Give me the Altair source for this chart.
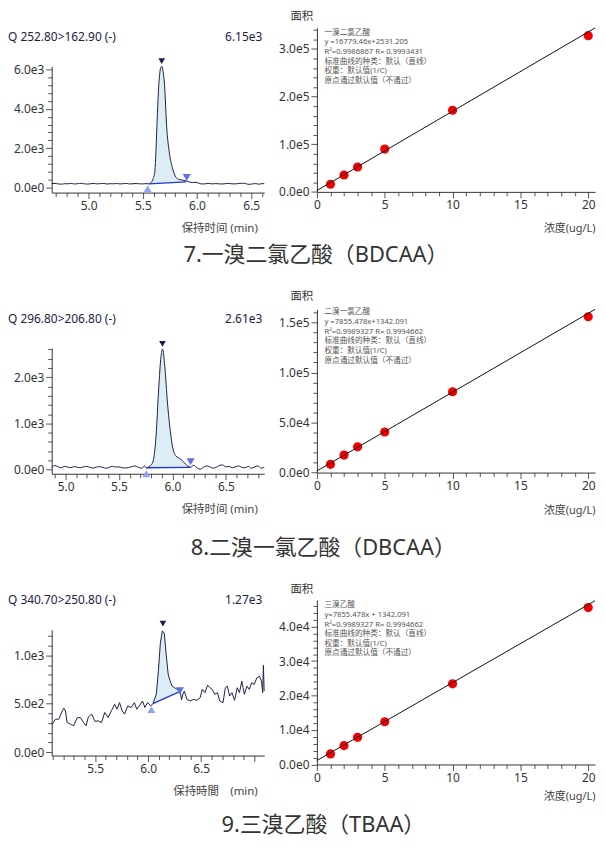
import altair as alt
import pandas as pd

LATIN = "Noto Sans, Noto Sans CJK SC, sans-serif"

# ---------------- data: chromatograms (time [min], response) ----------------
chrom1 = [
    (4.66, 205), (4.69, 215), (4.72, 190), (4.75, 175), (4.78, 200), (4.81, 195), (4.84, 215),
    (4.87, 185), (4.90, 200), (4.93, 220), (4.96, 195), (4.99, 180), (5.02, 200), (5.05, 210),
    (5.08, 190), (5.11, 205), (5.14, 215), (5.17, 185), (5.20, 200), (5.23, 195), (5.26, 210),
    (5.29, 190), (5.32, 200), (5.35, 215), (5.38, 185), (5.41, 200), (5.44, 210), (5.47, 195),
    (5.50, 190), (5.53, 205), (5.555, 195), (5.58, 280), (5.595, 450), (5.61, 780), (5.62, 1700),
    (5.63, 3100), (5.648, 5250), (5.665, 6080), (5.675, 6150), (5.687, 5900), (5.70, 5250),
    (5.72, 3100), (5.745, 1770), (5.776, 945), (5.806, 530), (5.836, 414), (5.87, 380),
    (5.90, 340), (5.93, 290), (5.96, 260), (5.99, 270), (6.02, 215), (6.05, 185), (6.08, 200),
    (6.11, 215), (6.14, 190), (6.17, 205), (6.20, 195), (6.23, 185), (6.26, 200), (6.29, 215),
    (6.32, 195), (6.35, 190), (6.38, 210), (6.42, 225), (6.45, 200), (6.48, 165), (6.51, 190),
    (6.54, 205), (6.57, 175), (6.60, 205), (6.62, 200),
]
chrom2 = [
    (4.87, 40), (4.90, 90), (4.93, 60), (4.96, 40), (4.99, 70), (5.02, 55), (5.05, 45),
    (5.08, 65), (5.11, 50), (5.14, 40), (5.17, 60), (5.20, 70), (5.23, 45), (5.26, 35),
    (5.29, 55), (5.32, 65), (5.35, 45), (5.38, 30), (5.41, 50), (5.44, 70), (5.47, 55),
    (5.50, 60), (5.53, 40), (5.56, 35), (5.59, 45), (5.62, 65), (5.65, 80), (5.68, 50),
    (5.71, 30), (5.74, 75), (5.755, 40), (5.79, 80), (5.816, 157), (5.847, 728), (5.871, 1729),
    (5.893, 2443), (5.908, 2610), (5.929, 2229), (5.954, 1443), (5.975, 943), (6.0, 514),
    (6.031, 300), (6.077, 229), (6.123, 121), (6.169, 50), (6.20, 95), (6.23, 40), (6.26, 10),
    (6.29, 50), (6.32, 80), (6.35, 60), (6.38, 30), (6.41, 50), (6.44, 90), (6.47, 100),
    (6.50, 60), (6.53, 70), (6.56, 40), (6.59, 60), (6.62, 80), (6.65, 50), (6.68, 40),
    (6.71, 70), (6.74, 30), (6.77, 60), (6.80, 80), (6.83, 30), (6.86, 50),
]
chrom3 = [
    (5.095, 290), (5.126, 341), (5.157, 341), (5.19, 427), (5.204, 454), (5.22, 427), (5.235, 307),
    (5.266, 290), (5.297, 273), (5.328, 352), (5.359, 359), (5.39, 307), (5.414, 273), (5.436, 365),
    (5.467, 393), (5.498, 318), (5.529, 324), (5.56, 307), (5.59, 410), (5.622, 359), (5.653, 427),
    (5.684, 495), (5.706, 444), (5.73, 512), (5.755, 427), (5.777, 393), (5.808, 478), (5.839, 461),
    (5.87, 512), (5.892, 444), (5.916, 478), (5.947, 529), (5.969, 461), (5.994, 512), (6.025, 478),
    (6.045, 502), (6.077, 598), (6.096, 837), (6.115, 1127), (6.133, 1253), (6.152, 1229),
    (6.17, 1007), (6.189, 803), (6.208, 734), (6.226, 683), (6.25, 666), (6.273, 649), (6.288, 640),
    (6.302, 628), (6.315, 540), (6.328, 600), (6.341, 632), (6.365, 546), (6.397, 529), (6.428, 546),
    (6.458, 536), (6.49, 563), (6.511, 649), (6.536, 615), (6.56, 693), (6.582, 666), (6.604, 649),
    (6.629, 598), (6.654, 615), (6.675, 529), (6.706, 512), (6.728, 666), (6.747, 683), (6.768, 580),
    (6.79, 615), (6.815, 536), (6.84, 666), (6.861, 615), (6.883, 734), (6.895, 666), (6.908, 598),
    (6.932, 683), (6.954, 649), (6.976, 717), (7.0, 700), (7.025, 768), (7.05, 785), (7.069, 734),
    (7.08, 615), (7.087, 898), (7.094, 632),
]

# integration baselines (start, end) and peak markers
base1 = [(5.555, 195), (5.90, 290)]
base2 = [(5.755, 40), (6.169, 50)]
base3 = [(6.045, 502), (6.302, 628)]
apex = [(5.674, 6420), (5.907, 2720), (6.139, 1330)]
starts = [(5.545, -60), (5.755, -90), (6.03, 440)]
ends = [(5.905, 510), (6.17, 170), (6.30, 635)]

headers = ["Q 252.80>162.90 (-)", "Q 296.80>206.80 (-)", "Q 340.70>250.80 (-)"]
maxima = ["6.15e3", "2.61e3", "1.27e3"]
time_titles = ["保持时间 (min)", "保持时间 (min)", "保持時間\u3000(min)"]

# ---------------- data: calibration curves ----------------
conc = [1, 2, 3, 5, 10, 20]
area1 = [16000, 35500, 52200, 89800, 171200, 327800]
area2 = [8200, 17500, 25700, 40500, 80700, 155600]
area3 = [3070, 5470, 7870, 12400, 23400, 45500]
fit1 = [(0, 2800), (20.5, 344000)]
fit2 = [(0, 1600), (20.5, 163000)]
fit3 = [(0, 1150), (20.5, 47480)]

notes1 = ["一溴二氯乙酸", "y =16779.46x+2531.205", "R²=0.9986867 R= 0.9993431", "",
          "标准曲线的种类：默认（直线）", "权重：默认值(1/C)", "原点通过默认值（不通过）"]
notes2 = ["二溴一氯乙酸", "y =7855.478x+1342.091", "R²=0.9989327 R= 0.9994662", "",
          "标准曲线的种类：默认（直线）", "权重：默认值(1/C)", "原点通过默认值（不通过）"]
notes3 = ["三溴乙酸", "y=7855.478x + 1342.091", "R²=0.9989327 R= 0.9994662", "",
          "标准曲线的种类：默认（直线）", "权重：默认值(1/C)", "原点通过默认值（不通过）"]

titles = ["7.一溴二氯乙酸（BDCAA）", "8.二溴一氯乙酸（DBCAA）", "9.三溴乙酸（TBAA）"]

# ---------------- styling / layout ----------------
NAVY = "#1c2148"
TXT = "#333333"
FILL = "#dcedf5"
BLUE = "#2136e0"
RED = "#f00000"
CW = 280  # calibration panel width

layout = [
    dict(xdom=[4.66, 6.62], ydom=[-250, 6150], h=166, top=39, xt=(4.7, 6.6, 0.1), xmax=6.55,
         yt=(0, 6000, 400), ymaj=2000, hy=9, xty=36, toff=11.5, tdx=13.5,
         cdom=[0, 344500], ch=165.3, ct=(0, 340000, 20000), cmaj=100000, ny=1, ay=-10.5, cty=36.5),
    dict(xdom=[4.87, 6.86], ydom=[-90, 2630], h=165.5, top=39, xt=(4.9, 6.8, 0.1), xmax=6.55,
         yt=(0, 2600, 200), ymaj=1000, hy=10, xty=36, toff=23, tdx=21,
         cdom=[0, 163000], ch=164.3, ct=(0, 160000, 10000), cmaj=50000, ny=-1, ay=-12.3, cty=38.4),
    dict(xdom=[5.09, 7.095], ydom=[-35, 1265], h=156.6, top=30, xt=(5.1, 7.0, 0.1), xmax=6.95,
         yt=(0, 1200, 100), ymaj=500, hy=0, xty=36.7, toff=13.5, tdx=21,
         cdom=[0, 47700], ch=165.6, ct=(0, 46000, 2000), cmaj=10000, ny=1.3, ay=-10, cty=32.7),
]


def ticks(lo, hi, step):
    n = int(round((hi - lo) / step))
    return [round(lo + i * step, 6) for i in range(n + 1)]


def sci_expr(maj):
    return (f"abs(datum.value/{maj} - round(datum.value/{maj})) < 1e-6 ? "
            f"replace(format(datum.value, '.1e'), '+', '') : ''")


def tick_size(test):
    return {"condition": {"test": test, "value": 6}, "value": 4}


one = pd.DataFrame({"k": [0]})


def chrom_panel(i, data, base):
    L = layout[i]
    interp = "linear" if i == 2 else "monotone"
    df = pd.DataFrame(data, columns=["t", "v"])
    xs = alt.Scale(domain=L["xdom"], nice=False, zero=False)
    ys = alt.Scale(domain=L["ydom"], range=[L["h"], L["top"]], nice=False, zero=False)
    xmaj = "abs(datum.value*2 - round(datum.value*2)) < 1e-6"
    ax_x = alt.Axis(values=ticks(*L["xt"]),
                    labelExpr=f"({xmaj} && datum.value < {L['xmax']}) ? format(datum.value, '.1f') : ''",
                    tickSize=tick_size(xmaj), title=time_titles[i], titleX=207, titleY=L["xty"],
                    titleAlign="right", titleAnchor="start", titleBaseline="middle",
                    titleFontSize=11.5, titleFontWeight="normal", titleColor="#444",
                    labelOverlap=False, labelFlush=False, grid=False)
    ymaj = f"abs(datum.value/{L['ymaj']} - round(datum.value/{L['ymaj']})) < 1e-6"
    ax_y = alt.Axis(values=ticks(*L["yt"]), labelExpr=sci_expr(L["ymaj"]), tickSize=tick_size(ymaj),
                    title=None, labelOverlap=False, labelFlush=False, grid=False)
    X = alt.X("t:Q", scale=xs, axis=ax_x)
    Y = alt.Y("v:Q", scale=ys, axis=ax_y)
    (t0, v0), (t1, v1) = base
    slope = (v1 - v0) / (t1 - t0)
    fill = alt.Chart(df).transform_filter(
        f"datum.t >= {t0 - 1e-9} && datum.t <= {t1 + 1e-9}"
    ).transform_calculate(b=f"{v0} + (datum.t - {t0}) * {slope}").mark_area(
        color=FILL, opacity=1, interpolate=interp).encode(x=X, y=Y, y2="b:Q")
    trace = alt.Chart(df).mark_line(color=NAVY, strokeWidth=1, interpolate=interp).encode(x=X, y=Y)
    bdf = pd.DataFrame({"t": [t0, t1], "v": [v0, v1]})
    bline = alt.Chart(bdf).mark_line(color=BLUE, strokeWidth=1.3).encode(x=X, y=Y)

    def marker(pt, shape, color, size):
        return alt.Chart(pd.DataFrame({"t": [pt[0]], "v": [pt[1]]})).mark_point(
            shape=shape, filled=True, color=color, size=size, opacity=1).encode(x=X, y=Y)

    m1 = marker(apex[i], "triangle-down", "#15204a", 45)
    m2 = marker(starts[i], "triangle-up", "#8fa3f5", 65)
    m3 = marker(ends[i], "triangle-down", "#5d72e8", 65)
    hdr = alt.Chart(one).mark_text(align="left", baseline="middle", fontSize=12, color=NAVY,
                                   font=LATIN).encode(
        x=alt.value(-44), y=alt.value(L["hy"]), text=alt.value(headers[i]))
    mx = alt.Chart(one).mark_text(align="right", baseline="middle", fontSize=12, color=NAVY,
                                  font=LATIN).encode(
        x=alt.value(212), y=alt.value(L["hy"]), text=alt.value(maxima[i]))
    return alt.layer(fill, trace, bline, m1, m2, m3, hdr, mx).properties(width=214, height=L["h"])


def calib_panel(i, area, fit, notes):
    L = layout[i]
    xs = alt.Scale(domain=[0, 20.5], nice=False, zero=False)
    ys = alt.Scale(domain=L["cdom"], nice=False, zero=False)
    ax_x = alt.Axis(values=ticks(0, 20, 1), labelExpr="datum.value % 5 === 0 ? '' + datum.value : ''",
                    tickSize=tick_size("datum.value % 5 === 0"), title="浓度(ug/L)",
                    titleX=CW, titleY=L["cty"], titleAlign="right", titleAnchor="start",
                    titleBaseline="middle", titleFontSize=11, titleFontWeight="normal",
                    titleColor="#444", labelOverlap=False, labelFlush=False, grid=False)
    cmaj = f"abs(datum.value/{L['cmaj']} - round(datum.value/{L['cmaj']})) < 1e-6"
    ax_y = alt.Axis(values=ticks(*L["ct"]), labelExpr=sci_expr(L["cmaj"]), tickSize=tick_size(cmaj),
                    title=None, labelOverlap=False, labelFlush=False, grid=False)
    X = alt.X("c:Q", scale=xs, axis=ax_x)
    Y = alt.Y("a:Q", scale=ys, axis=ax_y)
    pts = alt.Chart(pd.DataFrame({"c": conc, "a": area})).mark_circle(
        size=85, color=RED, opacity=1).encode(x=X, y=Y)
    fdf = pd.DataFrame(fit, columns=["c", "a"])
    line = alt.Chart(fdf).mark_line(color="#111111", strokeWidth=1).encode(x=X, y=Y)
    note = alt.Chart(one).mark_text(align="left", baseline="top", fontSize=7.7, lineHeight=9.7,
                                    color="#555555", font=LATIN).encode(
        x=alt.value(7.6), y=alt.value(L["ny"]), text=alt.value(notes))
    ylab = alt.Chart(one).mark_text(align="left", baseline="middle", fontSize=11.5, color=TXT,
                                    font=LATIN).encode(
        x=alt.value(-26.7), y=alt.value(L["ay"]), text=alt.value("面积"))
    return alt.layer(pts, line, note, ylab).properties(width=CW, height=L["ch"])


rows = []
for i, (cd, bs, ar, ft, nt) in enumerate([
    (chrom1, base1, area1, fit1, notes1),
    (chrom2, base2, area2, fit2, notes2),
    (chrom3, base3, area3, fit3, notes3),
]):
    L = layout[i]
    row = alt.hconcat(chrom_panel(i, cd, bs), calib_panel(i, ar, ft, nt), spacing=12).properties(
        title=alt.TitleParams(titles[i], orient="bottom", anchor="middle", fontSize=22,
                              fontWeight="normal", color=TXT, font=LATIN,
                              offset=L["toff"], dx=L["tdx"]))
    rows.append(row)

chart = alt.vconcat(*rows, spacing=24.6).properties(
    padding={"top": 0, "bottom": 1, "left": 0, "right": 0}, background="white"
).configure_view(
    stroke=None
).configure_axis(
    labelFont=LATIN, titleFont=LATIN, labelFontSize=12, labelColor=TXT,
    tickColor="#555555", domainColor="#333333", labelPadding=2,
)

chart.save("out.html", embed_options={"renderer": "svg", "actions": False})
